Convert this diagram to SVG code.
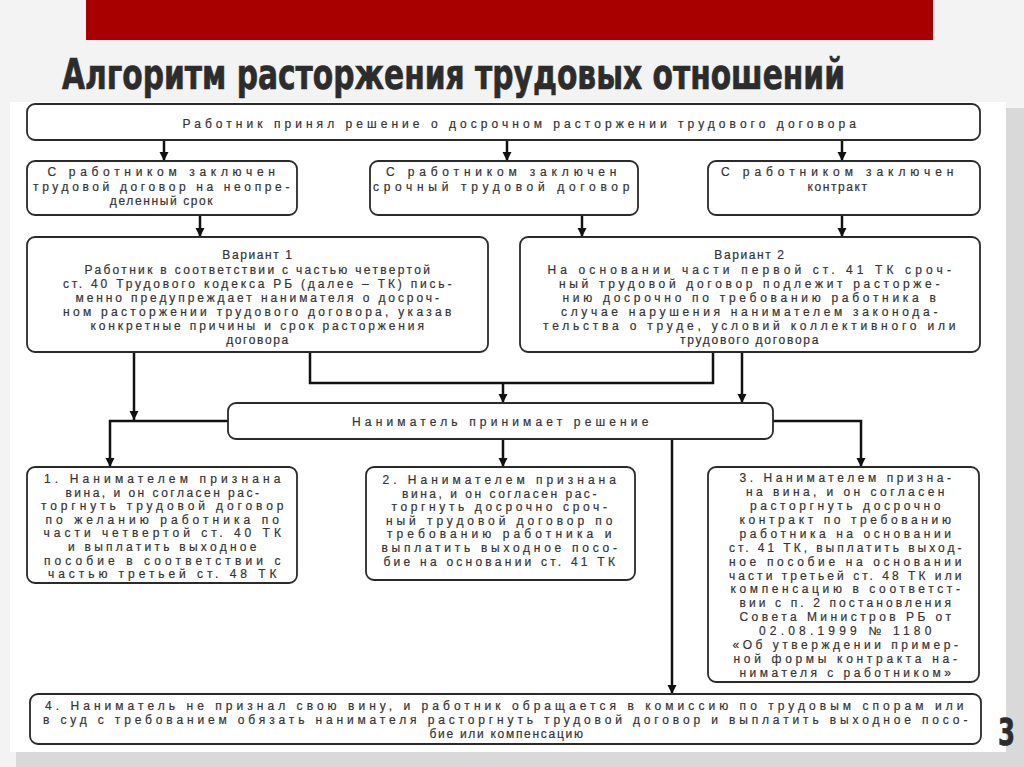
<svg xmlns="http://www.w3.org/2000/svg" width="1024" height="767" viewBox="0 0 1024 767">
<defs>
<marker id="ah" markerUnits="userSpaceOnUse" markerWidth="10" markerHeight="10" refX="9" refY="4.5" orient="auto">
<path d="M0,0 L9,4.5 L0,9 z" fill="#111"/>
</marker>
<style>
.box{fill:#fff;stroke:#2a2a2a;stroke-width:1.8}
.t{font-family:"Liberation Sans","Open Sans",sans-serif;font-size:12px;fill:#333;stroke:#333;stroke-width:0.2;text-anchor:middle;letter-spacing:1.6px}
.c{fill:none;stroke:#111;stroke-width:2.5}
.a{marker-end:url(#ah)}
.title{font-family:"Liberation Sans Narrow","DejaVu Sans Condensed","Liberation Sans",sans-serif;font-weight:bold;fill:#2c2c2c;stroke:#2c2c2c;stroke-width:0.5}
</style>
</defs>
<rect width="1024" height="767" fill="#f3f3f3"/>
<rect x="16" y="108" width="1008" height="659" fill="#d9d9d9"/>
<rect x="10" y="102" width="996" height="650" fill="#ffffff"/>
<rect x="86" y="0" width="847" height="40" fill="#a80000"/>
<text class="title" transform="translate(62 89) scale(1 1.4)" x="0" y="0" font-size="31" textLength="783" lengthAdjust="spacingAndGlyphs">Алгоритм расторжения трудовых отношений</text>
<text class="title" transform="translate(998 745) scale(1 1.45)" x="0" y="0" font-size="26" textLength="17" lengthAdjust="spacingAndGlyphs">3</text>

<g id="connectors">
<line class="c a" x1="164" y1="141" x2="164" y2="161"/>
<line class="c a" x1="507" y1="141" x2="507" y2="161"/>
<line class="c a" x1="842" y1="141" x2="842" y2="161"/>
<line class="c a" x1="200" y1="215" x2="200" y2="237"/>
<line class="c a" x1="582" y1="215" x2="582" y2="237"/>
<line class="c a" x1="842" y1="215" x2="842" y2="237"/>
<line class="c a" x1="134" y1="352" x2="134" y2="420"/>
<polyline class="c" points="310,352 310,383 713,383 713,352"/>
<line class="c a" x1="503" y1="383" x2="503" y2="403"/>
<line class="c a" x1="742" y1="352" x2="742" y2="403"/>
<polyline class="c a" points="228,421 110,421 110,467"/>
<polyline class="c a" points="773,421 861,421 861,467"/>
<line class="c a" x1="503" y1="439" x2="503" y2="467"/>
<line class="c a" x1="672" y1="439" x2="672" y2="694"/>
</g>

<g id="n-top">
<rect class="box" x="27" y="104" width="953" height="36" rx="8"/>
<text class="t" x="520" y="128" textLength="675" lengthAdjust="spacing">Работник принял решение о досрочном расторжении трудового договора</text>
</g>

<g id="n-a">
<rect class="box" x="27" y="161" width="270" height="54" rx="8"/>
<text class="t" x="162" y="176" textLength="229" lengthAdjust="spacing">С работником заключен</text>
<text class="t" x="162" y="190.5" textLength="258" lengthAdjust="spacing">трудовой договор на неопре-</text>
<text class="t" x="162" y="205">деленный срок</text>
</g>

<g id="n-b">
<rect class="box" x="370" y="161" width="268" height="54" rx="8"/>
<text class="t" x="502" y="176" textLength="232" lengthAdjust="spacing">С работником заключен</text>
<text class="t" x="502" y="190.5" textLength="258" lengthAdjust="spacing">срочный трудовой договор</text>
</g>

<g id="n-c">
<rect class="box" x="708" y="161" width="272" height="54" rx="8"/>
<text class="t" x="838" y="176" textLength="234" lengthAdjust="spacing">С работником заключен</text>
<text class="t" x="838" y="190.5">контракт</text>
</g>

<g id="n-v1">
<rect class="box" x="27" y="237" width="461" height="115" rx="8"/>
<text class="t" x="258" y="259">Вариант 1</text>
<text class="t" x="258" y="273.5" textLength="347" lengthAdjust="spacing">Работник в соответствии с частью четвертой</text>
<text class="t" x="258" y="287.5" textLength="390" lengthAdjust="spacing">ст. 40 Трудового кодекса РБ (далее – ТК) пись-</text>
<text class="t" x="258" y="301.5" textLength="365" lengthAdjust="spacing">менно предупреждает нанимателя о досроч-</text>
<text class="t" x="258" y="315.5" textLength="390" lengthAdjust="spacing">ном расторжении трудового договора, указав</text>
<text class="t" x="258" y="329.5" textLength="335" lengthAdjust="spacing">конкретные причины и срок расторжения</text>
<text class="t" x="258" y="343.5">договора</text>
</g>

<g id="n-v2">
<rect class="box" x="520" y="237" width="460" height="115" rx="8"/>
<text class="t" x="750" y="259">Вариант 2</text>
<text class="t" x="750" y="273.5" textLength="405" lengthAdjust="spacing">На основании части первой ст. 41 ТК сроч-</text>
<text class="t" x="750" y="287.5" textLength="382" lengthAdjust="spacing">ный трудовой договор подлежит расторже-</text>
<text class="t" x="750" y="301.5" textLength="375" lengthAdjust="spacing">нию досрочно по требованию работника в</text>
<text class="t" x="750" y="315.5" textLength="378" lengthAdjust="spacing">случае нарушения нанимателем законода-</text>
<text class="t" x="750" y="329.5" textLength="414" lengthAdjust="spacing">тельства о труде, условий коллективного или</text>
<text class="t" x="750" y="343.5" textLength="140" lengthAdjust="spacing">трудового договора</text>
</g>

<g id="n-decision">
<rect class="box" x="228" y="403" width="545" height="36" rx="8"/>
<text class="t" x="501" y="426" textLength="298" lengthAdjust="spacing">Наниматель принимает решение</text>
</g>

<g id="n-1">
<rect class="box" x="27" y="467" width="270" height="116" rx="8"/>
<text class="t" x="163" y="483" textLength="238" lengthAdjust="spacing">1. Нанимателем признана</text>
<text class="t" x="163" y="496.6" textLength="195" lengthAdjust="spacing">вина, и он согласен рас-</text>
<text class="t" x="163" y="510.2" textLength="244" lengthAdjust="spacing">торгнуть трудовой договор</text>
<text class="t" x="163" y="523.8" textLength="235" lengthAdjust="spacing">по желанию работника по</text>
<text class="t" x="163" y="537.4" textLength="239" lengthAdjust="spacing">части четвертой ст. 40 ТК</text>
<text class="t" x="163" y="551" textLength="190" lengthAdjust="spacing">и выплатить выходное</text>
<text class="t" x="163" y="564.6" textLength="238" lengthAdjust="spacing">пособие в соответствии с</text>
<text class="t" x="163" y="578.2" textLength="230" lengthAdjust="spacing">частью третьей ст. 48 ТК</text>
</g>

<g id="n-2">
<rect class="box" x="366" y="467" width="269" height="113" rx="8"/>
<text class="t" x="500" y="484" textLength="235" lengthAdjust="spacing">2. Нанимателем признана</text>
<text class="t" x="500" y="497.6" textLength="196" lengthAdjust="spacing">вина, и он согласен рас-</text>
<text class="t" x="500" y="511.2" textLength="217" lengthAdjust="spacing">торгнуть досрочно сроч-</text>
<text class="t" x="500" y="524.8" textLength="228" lengthAdjust="spacing">ный трудовой договор по</text>
<text class="t" x="500" y="538.4" textLength="226" lengthAdjust="spacing">требованию работника и</text>
<text class="t" x="500" y="552" textLength="237" lengthAdjust="spacing">выплатить выходное посо-</text>
<text class="t" x="500" y="565.6" textLength="233" lengthAdjust="spacing">бие на основании ст. 41 ТК</text>
</g>

<g id="n-3">
<rect class="box" x="708" y="467" width="271" height="215" rx="8"/>
<text class="t" x="846" y="482" textLength="213" lengthAdjust="spacing">3. Нанимателем призна-</text>
<text class="t" x="846" y="495.9" textLength="200" lengthAdjust="spacing">на вина, и он согласен</text>
<text class="t" x="846" y="509.9" textLength="192" lengthAdjust="spacing">расторгнуть досрочно</text>
<text class="t" x="846" y="523.8" textLength="213" lengthAdjust="spacing">контракт по требованию</text>
<text class="t" x="846" y="537.7" textLength="213" lengthAdjust="spacing">работника на основании</text>
<text class="t" x="846" y="551.6" textLength="234" lengthAdjust="spacing">ст. 41 ТК, выплатить выход-</text>
<text class="t" x="846" y="565.6" textLength="234" lengthAdjust="spacing">ное пособие на основании</text>
<text class="t" x="846" y="579.5" textLength="234" lengthAdjust="spacing">части третьей ст. 48 ТК или</text>
<text class="t" x="846" y="593.4" textLength="231" lengthAdjust="spacing">компенсацию в соответст-</text>
<text class="t" x="846" y="607.4" textLength="213" lengthAdjust="spacing">вии с п. 2 постановления</text>
<text class="t" x="846" y="621.3" textLength="213" lengthAdjust="spacing">Совета Министров РБ от</text>
<text class="t" x="846" y="635.2" textLength="174" lengthAdjust="spacing">02.08.1999 № 1180</text>
<text class="t" x="846" y="649.2" textLength="227" lengthAdjust="spacing">«Об утверждении пример-</text>
<text class="t" x="846" y="663.1" textLength="225" lengthAdjust="spacing">ной формы контракта на-</text>
<text class="t" x="846" y="677" textLength="213" lengthAdjust="spacing">нимателя с работником»</text>
</g>

<g id="n-4">
<rect class="box" x="30" y="694" width="951" height="50" rx="8"/>
<text class="t" x="505" y="709.5" textLength="920" lengthAdjust="spacing">4. Наниматель не признал свою вину, и работник обращается в комиссию по трудовым спорам или</text>
<text class="t" x="506" y="723.5" textLength="926" lengthAdjust="spacing">в суд с требованием обязать нанимателя расторгнуть трудовой договор и выплатить выходное посо-</text>
<text class="t" x="507" y="737.5" textLength="155" lengthAdjust="spacing">бие или компенсацию</text>
</g>
</svg>
